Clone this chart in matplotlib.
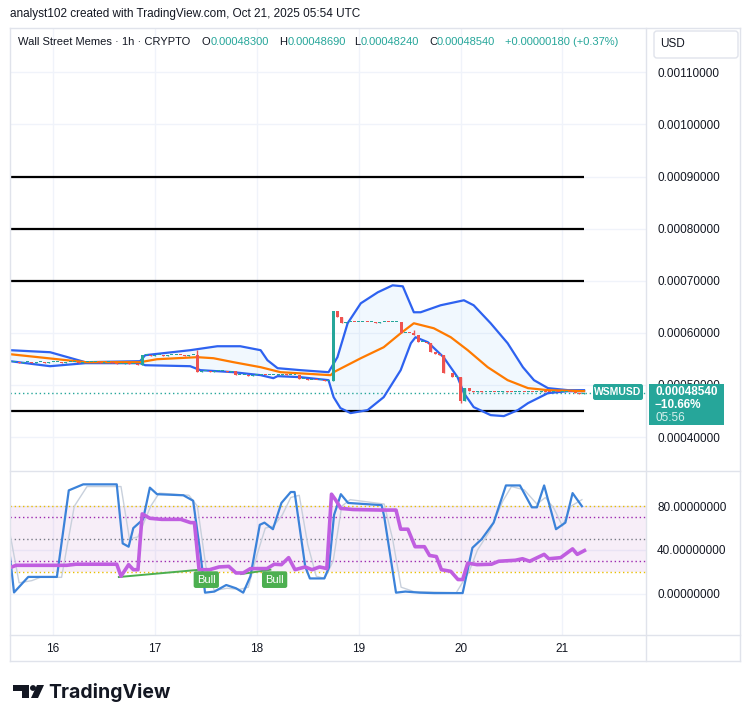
import numpy as np
import matplotlib
matplotlib.use("Agg")
import matplotlib.pyplot as plt
from matplotlib.patches import Rectangle, FancyBboxPatch, Polygon, Circle

W, H = 750, 723
UNIT = 1e-4  # prices below are typed in units of 0.0001

# hourly candles, hour 0 = Oct 16 00:00 UTC
hours = np.arange(-10, 126)
closes = [
    5.44, 5.44, 5.43, 5.44, 5.44, 5.43, 5.44, 5.44, 5.43, 5.44,          # -10..-1
    5.44, 5.44, 5.43, 5.44, 5.44, 5.44, 5.43, 5.44, 5.44, 5.44,          # 0..9
    5.44, 5.43, 5.44, 5.44, 5.43, 5.40, 5.41, 5.42, 5.40, 5.40,          # 10..19
    5.39, 5.57,                                                          # 20..21
    5.57, 5.56, 5.57, 5.57, 5.56, 5.57, 5.57, 5.58, 5.57, 5.56, 5.57, 5.57,  # 22..33
    5.25,                                                                # 34
    5.26, 5.26, 5.25, 5.26, 5.26, 5.26, 5.25, 5.26,                      # 35..42
    5.19,                                                                # 43
    5.19, 5.19, 5.18, 5.19, 5.19, 5.20, 5.19, 5.19, 5.20, 5.20, 5.21, 5.20, 5.20, 5.20,  # 44..57
    5.11,                                                                # 58
    5.11, 5.10, 5.10, 5.09, 5.09, 5.08, 5.08,                            # 59..65
    6.41, 6.30, 6.19,                                                    # 66..68
    6.20, 6.21, 6.20, 6.20, 6.21, 6.20, 6.20, 6.19, 6.20, 6.21, 6.20, 6.20, 6.20,  # 69..81
    5.99, 6.00, 5.99, 5.95, 5.82, 5.82, 5.81, 5.63, 5.60, 5.57,          # 82..91
    5.23, 5.22, 5.15, 5.15, 4.70, 4.94,                                  # 92..97
    4.89, 4.87, 4.88, 4.86, 4.87, 4.87, 4.86, 4.87, 4.88, 4.87,          # 98..107
    4.86, 4.87, 4.87, 4.86, 4.87, 4.86, 4.87, 4.88, 4.87, 4.86,          # 108..117
    4.87, 4.86, 4.86, 4.87, 4.86, 4.85, 4.83, 4.854,                     # 118..125
]
wick_hours = [34, 66, 85, 96]
wick_high = [5.67, 6.41, 6.05, 5.15]
wick_low = [5.25, 5.07, 5.95, 4.66]

# Bollinger bands and basis
bb_up_h = [-10.1, -0.7, 7.6, 20.5, 21.7, 32.3, 38.7, 44.1, 48.9, 50.5, 52.9, 58.3, 64.9,
           67.0, 69.4, 72.5, 76.5, 80.0, 82.4, 83.5, 85.0, 86.6, 91.3, 96.8, 99.1, 103.1,
           107.1, 110.7, 113.3, 116.6, 121.3, 125.1]
bb_up = [5.667, 5.628, 5.437, 5.456, 5.571, 5.667, 5.743, 5.743, 5.667, 5.475, 5.322, 5.284,
         5.245, 5.533, 6.184, 6.567, 6.778, 6.912, 6.893, 6.682, 6.395, 6.395, 6.529, 6.625,
         6.529, 6.184, 5.801, 5.341, 5.092, 4.939, 4.900, 4.900]
bb_lo_h = [-10.1, -0.7, 7.6, 20.5, 21.7, 32.3, 34.7, 42.5, 48.9, 51.9, 52.9, 58.3, 64.9,
           66.1, 67.7, 70.1, 74.1, 77.9, 81.9, 84.3, 85.4, 88.3, 92.0, 95.3, 96.8, 99.1,
           103.1, 106.2, 109.5, 111.9, 116.6, 121.3, 125.1]
bb_lo = [5.456, 5.36, 5.418, 5.418, 5.379, 5.36, 5.284, 5.245, 5.188, 5.13, 5.169, 5.149,
         5.092, 4.766, 4.556, 4.46, 4.517, 4.766, 5.284, 5.801, 5.916, 5.82, 5.533, 5.149,
         4.843, 4.575, 4.421, 4.402, 4.517, 4.651, 4.843, 4.881, 4.881]
ma_h = [-10.1, 7.6, 20.5, 24.5, 34.0, 37.8, 42.5, 48.9, 53.6, 65.4, 66.1, 72.5, 77.9, 81.9,
        85.0, 89.7, 93.7, 97.7, 102.4, 107.1, 111.9, 116.6, 125.1]
ma = [5.59, 5.437, 5.437, 5.494, 5.533, 5.513, 5.437, 5.341, 5.245, 5.188, 5.245, 5.513,
      5.724, 5.992, 6.184, 6.088, 5.916, 5.667, 5.341, 5.092, 4.939, 4.9, 4.881]

levels = [9.0, 8.0, 7.0, 4.5]
last_price = 4.854
price_ticks = [4, 5, 6, 7, 8, 9, 10, 11]

# indicator pane
k_h = [-10.35, -9.2, -5.85, 0.9, 3.7, 7.1, 15.0, 16.4, 17.8, 18.9, 21.2, 22.8, 24.5, 30.7,
       33.0, 34.7, 35.8, 38.0, 40.8, 43.1, 44.8, 46.5, 48.7, 49.8, 51.8, 53.8, 56.0, 56.9,
       59.4, 60.5, 63.9, 65.0, 66.2, 67.8, 69.5, 77.4, 78.0, 80.8, 83.0, 86.4, 89.8, 96.5,
       98.8, 101.0, 103.8, 106.7, 110.0, 112.8, 114.0, 115.7, 118.5, 120.7, 122.4, 124.6]
k_val = [40.6, 1.2, 15.4, 15.4, 94.5, 100, 100, 46, 43, 60, 68, 97, 91, 90,
         85, 37, 1, 2, 8, 5, 1, 16, 63, 65, 59, 83, 93, 93,
         25, 14, 14, 24, 72, 91, 83, 81, 71, 1, 2, 1, 0.6, 0.6,
         42, 50, 65, 99, 99, 79, 79, 99, 59, 65, 92, 80]
d_h = [-10.4, -8, -5, -3, 2, 5, 8, 16, 18, 20, 23, 25, 32, 34, 36, 38, 41, 44, 46, 48, 50,
       52, 54, 56, 58, 60, 62, 64, 66, 68, 70, 78, 80, 82, 85, 95, 98, 100, 103, 106, 108,
       111, 114, 116, 118, 120, 122, 124.6]
d_val = [60, 10, 12, 15, 15, 80, 98, 98, 50, 52, 80, 92, 90, 80, 25, 3, 5, 4, 6, 35, 60,
         62, 72, 88, 90, 45, 16, 14, 30, 80, 86, 82, 50, 6, 2, 1, 20, 40, 58, 85, 98,
         95, 82, 88, 78, 62, 80, 86]
rsi_h = [-10.4, -8.7, 3.2, 5.4, 15.0, 16.0, 17.8, 18.9, 20.0, 21.0, 22.8, 25.6, 27.9, 30.1,
         32.4, 33.3, 34.4, 36.9, 39.1, 41.4, 43.1, 44.8, 46.5, 50.4, 52.1, 53.8, 55.5, 57.0,
         59.4, 61.0, 62.8, 64.5, 65.6, 66.7, 67.8, 70.7, 77.4, 80.8, 81.9, 83.6, 85.3, 87.5,
         88.7, 90.3, 91.5, 93.7, 95.4, 96.5, 97.7, 99.9, 103.3, 105.0, 108.9, 110.6, 112.3,
         115.7, 116.8, 119.6, 122.4, 123.5, 125.2]
rsi_val = [23.5, 26, 26, 27, 27, 16, 26.6, 22, 22, 73, 69, 68, 68, 68,
           65, 65, 22, 22, 24.5, 25, 19, 19, 23, 23, 27, 26.6, 33, 22,
           24.5, 22, 24.5, 23, 91, 85, 78, 77, 76.5, 76.5, 59, 59, 43, 43,
           35, 34, 22, 20.5, 13, 13, 28, 26.6, 27, 29.7, 30.6, 32, 29.7,
           36, 32, 33, 41, 36, 39.5]
div_lines = [([15.5, 34.7], [15.3, 22.0]), ([44.3, 51.2], [18.0, 22.0])]
bull_h = [36.1, 52.2]
bull_v = [12.9, 12.9]
ind_ticks = [0, 40, 80]

days = [16, 17, 18, 19, 20, 21]
day_h = [0, 24, 48, 72, 96, 120]

UP, DOWN = "#26a69a", "#ef5350"
TXT = "#131722"
GRID = "#f0f3fa"
BORDER = "#e0e3eb"
plt.rcParams["font.family"] = ["Liberation Sans", "DejaVu Sans"]


def box(x0, y0, x1, y1):
    return [x0 / W, 1 - y1 / H, (x1 - x0) / W, (y1 - y0) / H]


fig = plt.figure(figsize=(W / 100, H / 100), dpi=100)
ax = fig.add_axes(box(10, 28, 646, 470))
ax2 = fig.add_axes(box(10, 471, 646, 635), sharex=ax)
xlim = (-10.15, 139.7)

# ---- price pane ----
ax.set_xlim(*xlim)
ax.set_ylim(3.368 * UNIT, 11.85 * UNIT)
for h in day_h:
    ax.axvline(h, color=GRID, lw=1, zorder=0)
for p in price_ticks:
    ax.axhline(p * UNIT, color=GRID, lw=1, zorder=0)

poly = list(zip(bb_up_h, np.array(bb_up) * UNIT)) + \
    list(zip(bb_lo_h[::-1], np.array(bb_lo[::-1]) * UNIT))
ax.add_patch(Polygon(poly, closed=True, facecolor="#2196f3", alpha=0.06, edgecolor="none", zorder=1))
ax.plot(bb_up_h, np.array(bb_up) * UNIT, color="#2e62f0", lw=1.6, zorder=3)
ax.plot(bb_lo_h, np.array(bb_lo) * UNIT, color="#2e62f0", lw=1.6, zorder=3)
ax.plot(ma_h, np.array(ma) * UNIT, color="#ff7a00", lw=1.6, zorder=3)

for lv in levels:
    ax.hlines(lv * UNIT, xlim[0], 125.1, color="black", lw=1.6, zorder=2)
ax.axhline(last_price * UNIT, color=UP, lw=1, ls=(0, (1, 2)), zorder=2)

c = np.array(closes)
o = np.concatenate([[c[0]], c[:-1]])
hi = np.maximum(o, c)
lo = np.minimum(o, c)
for wh, whi, wlo in zip(wick_hours, wick_high, wick_low):
    i = int(np.where(hours == wh)[0][0])
    hi[i] = max(hi[i], whi)
    lo[i] = min(lo[i], wlo)
colors = [UP if cc >= oo else DOWN for oo, cc in zip(o, c)]
ax.vlines(hours, lo * UNIT, hi * UNIT, color=colors, lw=1, zorder=4)
body_lo = np.minimum(o, c)
body_h = np.maximum(np.abs(c - o), 0.018)
ax.bar(hours, body_h * UNIT, bottom=body_lo * UNIT, width=0.7, color=colors, zorder=5)

ax.yaxis.tick_right()
ax.set_yticks([p * UNIT for p in price_ticks])
ax.set_yticklabels([f"{p * UNIT:.8f}" for p in price_ticks])
ax.tick_params(axis="y", length=0, pad=8, labelsize=8.5, labelcolor=TXT)
ax.tick_params(axis="x", length=0, labelbottom=False)
for s in ax.spines.values():
    s.set_visible(False)

# ---- indicator pane ----
ax2.set_ylim(-37.7, 112.2)
for h in day_h:
    ax2.axvline(h, color=GRID, lw=1, zorder=0)
for v in ind_ticks:
    ax2.axhline(v, color=GRID, lw=1, zorder=0)
ax2.axhspan(20, 80, color="#9c27b0", alpha=0.08, lw=0, zorder=0)
ax2.axhline(80, color="#e8c000", lw=1, ls=(0, (1, 2)))
ax2.axhline(20, color="#e8c000", lw=1, ls=(0, (1, 2)))
ax2.axhline(70, color="#9c27b0", lw=1, ls=(0, (1, 2)))
ax2.axhline(30, color="#9c27b0", lw=1, ls=(0, (1, 2)))
ax2.axhline(50, color="#787b86", lw=1, ls=(0, (1, 2)))
ax2.plot(d_h, d_val, color="#c8d0dc", lw=1.0, zorder=2)
ax2.plot(k_h, k_val, color="#3b82d9", lw=1.6, zorder=3)
ax2.plot(rsi_h, rsi_val, color="#c05ee0", lw=2.6, zorder=4)
for xs, ys in div_lines:
    ax2.plot(xs, ys, color="#4caf50", lw=1.4, zorder=3)
for bh, bv in zip(bull_h, bull_v):
    ax2.text(bh, bv, "Bull", color="white", fontsize=8, ha="center", va="center", zorder=6,
             bbox=dict(boxstyle="round,pad=0.3,rounding_size=0.2", fc="#4caf50", ec="none"))

ax2.yaxis.tick_right()
ax2.set_yticks(ind_ticks)
ax2.set_yticklabels([f"{v:.8f}" for v in ind_ticks])
ax2.tick_params(axis="y", length=0, pad=8, labelsize=8.5, labelcolor=TXT)
ax2.set_xticks(day_h)
ax2.set_xticklabels([str(d) for d in days])
ax2.tick_params(axis="x", length=0, pad=6, labelsize=8.5, labelcolor=TXT)
for s in ax2.spines.values():
    s.set_visible(False)
ax2.set_xlim(*xlim)

# ---- frame lines ----
def hline(y, x0, x1):
    fig.add_artist(plt.Line2D([x0 / W, x1 / W], [1 - y / H, 1 - y / H], color=BORDER, lw=1))


def vline(x, y0, y1):
    fig.add_artist(plt.Line2D([x / W, x / W], [1 - y0 / H, 1 - y1 / H], color=BORDER, lw=1))


hline(28, 10, 740)
hline(470.5, 10, 740)
hline(635, 10, 740)
hline(661, 10, 740)
vline(10, 28, 661)
vline(646, 28, 661)
vline(740, 28, 661)

# ---- texts ----
fig.text(10 / W, 1 - 14 / H, "analyst102 created with TradingView.com, Oct 21, 2025 05:54 UTC",
         fontsize=8.5, color=TXT, va="center")
ly = 1 - 42 / H
fig.text(18 / W, ly, "Wall Street Memes · 1h · CRYPTO", fontsize=8, color=TXT, va="center")
for lbl, lx, val, vx in [("O", 202, "0.00048300", 211), ("H", 279, "0.00048690", 288),
                         ("L", 354, "0.00048240", 361), ("C", 429, "0.00048540", 437)]:
    fig.text(lx / W, ly, lbl, fontsize=8, color=TXT, va="center")
    fig.text(vx / W, ly, val, fontsize=8, color=UP, va="center")
fig.text(505 / W, ly, "+0.00000180 (+0.37%)", fontsize=8, color=UP, va="center")
fig.add_artist(FancyBboxPatch((654 / W, 1 - 58 / H), 84 / W, 27 / H,
                              boxstyle="round,pad=0,rounding_size=0.004",
                              fc="white", ec=BORDER, lw=1, transform=fig.transFigure))
fig.text(660 / W, 1 - 44 / H, "USD", fontsize=8.5, color=TXT, va="center")

# last price tags
fig.add_artist(FancyBboxPatch((593 / W, 1 - 400 / H), 50 / W, 16 / H,
                              boxstyle="round,pad=0,rounding_size=0.003",
                              fc=UP, ec="none", transform=fig.transFigure, zorder=10))
fig.text(618 / W, 1 - 392 / H, "WSMUSD", fontsize=7.5, color="white", weight="bold",
         ha="center", va="center", zorder=11)
fig.add_artist(Rectangle((649 / W, 1 - 425 / H), 75 / W, 41 / H, fc=UP, ec="none",
                         transform=fig.transFigure, zorder=10))
fig.text(655 / W, 1 - 392 / H, "0.00048540", fontsize=8.5, color="white", weight="bold",
         va="center", zorder=11)
fig.text(655 / W, 1 - 405 / H, "\u221210.66%", fontsize=8.5, color="white", weight="bold",
         va="center", zorder=11)
fig.text(655 / W, 1 - 418 / H, "05:56", fontsize=8.5, color="#d7f0ec",
         va="center", zorder=11)

# TradingView logo
lg = "#131722"
fig.add_artist(Rectangle((13 / W, 1 - 691 / H), 16 / W, 6 / H, fc=lg, ec="none", transform=fig.transFigure))
fig.add_artist(Rectangle((22 / W, 1 - 698 / H), 7 / W, 13 / H, fc=lg, ec="none", transform=fig.transFigure))
fig.add_artist(Circle((33 / W, 1 - 688 / H), 3 / W, fc=lg, ec="none", transform=fig.transFigure))
fig.add_artist(Polygon([(37 / W, 1 - 685 / H), (44 / W, 1 - 685 / H), (38 / W, 1 - 698 / H),
                        (31 / W, 1 - 698 / H)], closed=True, fc=lg, ec="none", transform=fig.transFigure))
fig.text(48 / W, 1 - 693 / H, "TradingView", fontsize=14, color=lg, weight="bold",
         va="center", family=["Inter", "DejaVu Sans"])

fig.savefig("out.png", dpi=100)
